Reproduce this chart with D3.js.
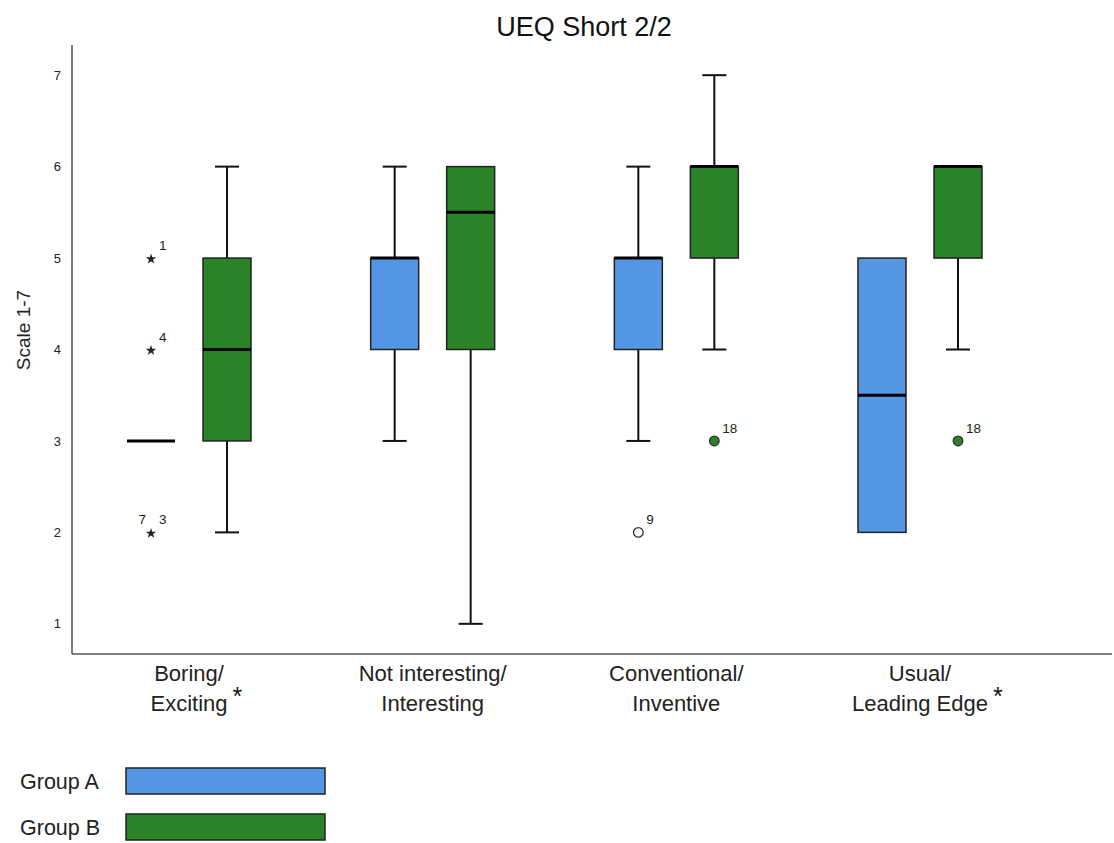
<!DOCTYPE html>
<html><head><meta charset="utf-8">
<script src="https://cdn.jsdelivr.net/npm/d3@7/dist/d3.min.js"></script>
<style>body{margin:0;background:#fff;} svg{display:block;font-family:"Liberation Sans",Arial,sans-serif;}</style>
</head><body>
<svg id="c" width="1114" height="843"></svg>
<script>
const categories = ["Boring/\nExciting", "Not interesting/\nInteresting", "Conventional/\nInventive", "Usual/\nLeading Edge"];
const significant = [true, false, false, true];
const groups = ["Group A", "Group B"];
const colors = ["#5596e5", "#2a8229"];
// [whiskerLow, Q1, median, Q3, whiskerHigh] per category
const groupA = [[3,3,3,3,3],[3,4,5,5,6],[3,4,5,5,6],[2,2,3.5,5,5]];
const groupB = [[2,3,4,5,6],[1,4,5.5,6,6],[4,5,6,6,7],[4,5,6,6,6]];
// outliers: [categoryIndex, groupIndex, value, labels, type]
const outliers = [
  [0,0,5,["1"],"star"],
  [0,0,4,["4"],"star"],
  [0,0,2,["7","3"],"star"],
  [2,0,2,["9"],"circle"],
  [2,1,3,["18"],"circle"],
  [3,1,3,["18"],"circle"]
];
const yTicks = [1,2,3,4,5,6,7];

const svg = d3.select("#c");
const y = d3.scaleLinear().domain([0.67,7.33]).range([654,45]);
const x = d3.scalePoint().domain(categories).range([189,920]);
const xg = d3.scalePoint().domain(groups).range([-38,38]);
const boxW = 48, capW = 24;
const data = [groupA, groupB];

// axes lines
svg.append("line").attr("x1",72).attr("x2",72).attr("y1",y(7.33)).attr("y2",y(0.67)).attr("stroke","#555").attr("stroke-width",1.5);
svg.append("line").attr("x1",72).attr("x2",1112).attr("y1",y(0.67)).attr("y2",y(0.67)).attr("stroke","#555").attr("stroke-width",1.5);

const ya = svg.append("g").attr("transform","translate(72,0)")
  .call(d3.axisLeft(y).tickValues(yTicks).tickSize(0).tickPadding(11).tickFormat(d3.format("d")));
ya.select(".domain").remove();
ya.selectAll("text").attr("font-size",13).attr("fill","#222").style("font-family","'Liberation Sans',Arial,sans-serif");

svg.append("text").attr("transform",`translate(30,330) rotate(-90)`).attr("text-anchor","middle")
  .attr("font-size",19).attr("fill","#222").text("Scale 1-7");

svg.append("text").attr("x",584).attr("y",36).attr("text-anchor","middle").attr("font-size",27).attr("fill","#111").text("UEQ Short 2/2");

// boxes
data.forEach((g,gi)=>{
  g.forEach((s,ci)=>{
    const cx = x(categories[ci]) + xg(groups[gi]);
    const [lo,q1,med,q3,hi] = s;
    const G = svg.append("g");
    G.append("line").attr("x1",cx).attr("x2",cx).attr("y1",y(hi)).attr("y2",y(q3)).attr("stroke","#111").attr("stroke-width",2);
    G.append("line").attr("x1",cx).attr("x2",cx).attr("y1",y(q1)).attr("y2",y(lo)).attr("stroke","#111").attr("stroke-width",2);
    if (hi>q3) G.append("line").attr("x1",cx-capW/2).attr("x2",cx+capW/2).attr("y1",y(hi)).attr("y2",y(hi)).attr("stroke","#111").attr("stroke-width",2);
    if (lo<q1) G.append("line").attr("x1",cx-capW/2).attr("x2",cx+capW/2).attr("y1",y(lo)).attr("y2",y(lo)).attr("stroke","#111").attr("stroke-width",2);
    if (q3>q1) G.append("rect").attr("x",cx-boxW/2).attr("width",boxW).attr("y",y(q3)).attr("height",y(q1)-y(q3))
      .attr("fill",colors[gi]).attr("stroke","#222").attr("stroke-width",1.5);
    G.append("line").attr("x1",cx-boxW/2).attr("x2",cx+boxW/2).attr("y1",y(med)).attr("y2",y(med)).attr("stroke","#000").attr("stroke-width",3);
  });
});

// outliers
const star = d3.symbol().type(d3.symbolStar).size(34);
outliers.forEach(([ci,gi,v,labs,type])=>{
  const cx = x(categories[ci]) + xg(groups[gi]), cy = y(v);
  if (type==="star") {
    svg.append("path").attr("d",star()).attr("transform",`translate(${cx},${cy+1})`).attr("fill","#222");
  } else {
    svg.append("circle").attr("cx",cx).attr("cy",cy).attr("r",4.8)
      .attr("fill", gi===1 ? colors[1] : "#fff").attr("stroke","#333").attr("stroke-width",1.3);
  }
  if (labs.length===1) {
    svg.append("text").attr("x",cx+8).attr("y",cy-8).attr("font-size",13.5).attr("fill","#222").text(labs[0]);
  } else {
    svg.append("text").attr("x",cx-5).attr("y",cy-8).attr("text-anchor","end").attr("font-size",13.5).attr("fill","#222").text(labs[0]);
    svg.append("text").attr("x",cx+8).attr("y",cy-8).attr("font-size",13.5).attr("fill","#222").text(labs[1]);
  }
});

// x labels
categories.forEach((c,ci)=>{
  const lines = c.split("\n");
  const t = svg.append("text").attr("text-anchor","middle").attr("font-size",22).attr("fill","#222");
  lines.forEach((l,li)=>{
    t.append("tspan").attr("x",x(c)).attr("y",681+li*30).text(l);
  });
  if (significant[ci]) {
    const w = t.selectAll("tspan").nodes()[1].getComputedTextLength();
    svg.append("text").attr("x",x(c) + w/2 + 5).attr("y",705)
      .attr("font-size",25).attr("fill","#111").text("*");
  }
});

// legend
groups.forEach((g,gi)=>{
  const yy = 781 + gi*46;
  svg.append("text").attr("x",20).attr("y",yy+8).attr("font-size",21.5).attr("fill","#222").text(g);
  svg.append("rect").attr("x",126).attr("y",yy-13).attr("width",199).attr("height",26)
    .attr("fill",colors[gi]).attr("stroke","#222").attr("stroke-width",1.5);
});
</script>
</body></html>
